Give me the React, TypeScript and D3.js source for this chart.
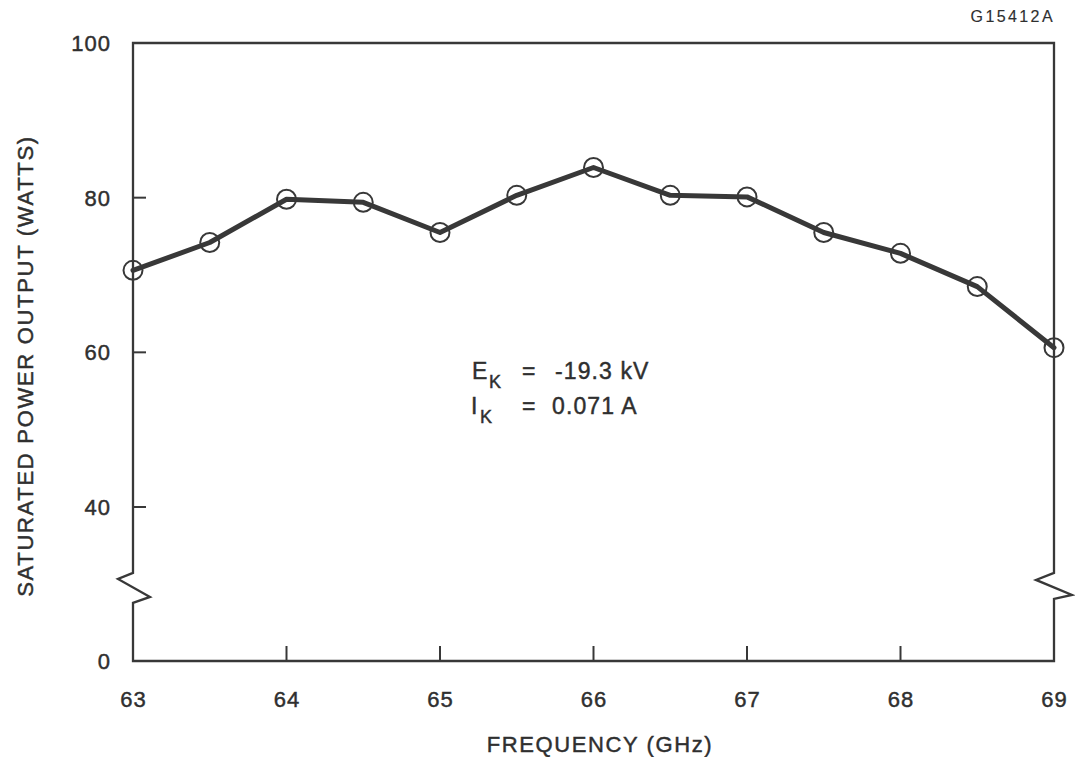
import React from "react";
import * as d3 from "d3";

const frequencies = [63, 63.5, 64, 64.5, 65, 65.5, 66, 66.5, 67, 67.5, 68, 68.5, 69];
const powerWatts = [70.6, 74.2, 79.8, 79.4, 75.5, 80.3, 83.9, 80.3, 80.1, 75.5, 72.8, 68.5, 60.6];
const xTicks = [63, 64, 65, 66, 67, 68, 69];
const yTicks = [0, 40, 60, 80, 100];
const yInnerTicks = [40, 60, 80];
const xInnerTicks = [64, 65, 66, 67, 68];
const yBreakValue = 19.5;

const W = 1075;
const H = 757;
const INK = "#383838";
const TEXT = "#2f2f2f";
const FONT = "'Liberation Sans', Arial, Helvetica, sans-serif";

export default function App() {
  const x = d3.scaleLinear().domain([63, 69]).range([133, 1054]);
  const y = d3.scaleLinear().domain([0, 40, 100]).range([661, 507, 43]);

  const x0 = x(63);
  const x1 = x(69);
  const yTop = y(100);
  const yBot = y(0);
  const yb = y(yBreakValue);

  const framePath =
    `M${x0},${yb - 13} L${x0},${yTop} L${x1},${yTop} L${x1},${yb - 13}` +
    ` L${x1 - 18},${yb - 6} L${x1 + 18},${yb + 9} L${x1},${yb + 13} L${x1},${yBot}` +
    ` L${x0},${yBot} L${x0},${yb + 17} L${x0 + 17},${yb + 11} L${x0 - 15},${yb - 7} L${x0},${yb - 13} Z`;

  const pts = frequencies.map((f, i) => [x(f), y(powerWatts[i])] as [number, number]);
  const line = d3.line<[number, number]>().curve(d3.curveLinear)(pts) || "";

  const textStroke = { stroke: TEXT, strokeWidth: 0.45 };

  return (
    <svg
      width={W}
      height={H}
      viewBox={`0 0 ${W} ${H}`}
      style={{ position: "absolute", left: 0, top: 0, background: "#fff" }}
      fontFamily={FONT}
    >
      <rect x={0} y={0} width={W} height={H} fill="#fff" />
      <path d={framePath} fill="none" stroke={INK} strokeWidth={2.3} strokeLinejoin="miter" />

      {yInnerTicks.map((t) => (
        <line key={"yt" + t} x1={x0} x2={x0 + 13} y1={y(t)} y2={y(t)} stroke={INK} strokeWidth={2} />
      ))}
      {xInnerTicks.map((t) => (
        <line key={"xt" + t} x1={x(t)} x2={x(t)} y1={yBot} y2={yBot - 15} stroke={INK} strokeWidth={2} />
      ))}

      <g fill={TEXT} {...textStroke}>
        {yTicks.map((t) => (
          <text key={"yl" + t} x={111} y={y(t) + 8} textAnchor="end" fontSize={22} letterSpacing={1}>
            {t}
          </text>
        ))}
        {xTicks.map((t) => (
          <text key={"xl" + t} x={x(t) + 0.5} y={707} textAnchor="middle" fontSize={22} letterSpacing={1}>
            {t}
          </text>
        ))}

        <text x={600} y={752} textAnchor="middle" fontSize={22} letterSpacing={1.6}>
          FREQUENCY (GHz)
        </text>
        <text
          transform={`translate(33,366) rotate(-90)`}
          textAnchor="middle"
          fontSize={22}
          letterSpacing={1.7}
        >
          SATURATED POWER OUTPUT (WATTS)
        </text>
      </g>

      <text x={1055} y={22} textAnchor="end" fontSize={16} letterSpacing={2.4} fill={TEXT} stroke={TEXT} strokeWidth={0.15}>
        G15412A
      </text>

      <path d={line} fill="none" stroke={INK} strokeWidth={5} strokeLinejoin="round" strokeLinecap="round" />
      {pts.map(([px, py], i) => (
        <circle key={"c" + i} cx={px} cy={py} r={9.5} fill="none" stroke={INK} strokeWidth={2} />
      ))}

      <g fill={TEXT} fontSize={23} letterSpacing={1.1} {...textStroke}>
        <text x={472} y={379}>E</text>
        <text x={489} y={388} fontSize={18} letterSpacing={0}>K</text>
        <text x={522} y={379}>=</text>
        <text x={555} y={379}>-19.3 kV</text>
        <text x={471} y={414} letterSpacing={0}>I</text>
        <text x={480} y={423} fontSize={18} letterSpacing={0}>K</text>
        <text x={522} y={414}>=</text>
        <text x={552} y={414}>0.071 A</text>
      </g>
    </svg>
  );
}
